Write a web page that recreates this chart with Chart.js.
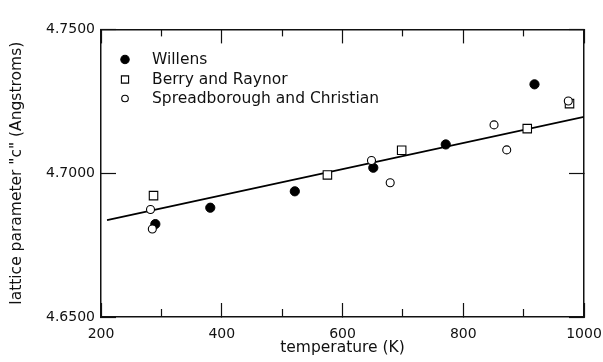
<!DOCTYPE html>
<html>
<head>
<meta charset="utf-8">
<script src="https://cdn.jsdelivr.net/npm/chart.js@4/dist/chart.umd.min.js"></script>
<style>
html,body{margin:0;padding:0;background:#fff;}
canvas{display:block;}
</style>
</head>
<body>
<canvas id="c" width="603" height="362"></canvas>
<script>
// ---- data ----
const willensT = [290, 381, 521, 651, 771, 918];
const willensC = [4.6823, 4.6880, 4.6937, 4.7019, 4.7100, 4.7309];
const berryT = [287, 575, 698, 906, 976];
const berryC = [4.6922, 4.6994, 4.7080, 4.7155, 4.7242];
const spreadT = [282, 285, 648, 679, 851, 872, 974];
const spreadC = [4.6874, 4.6806, 4.7044, 4.6967, 4.7168, 4.7081, 4.7251];
const fitT = [210, 1000];
const fitC = [4.6837, 4.7196];
const seriesNames = ["Willens", "Berry and Raynor", "Spreadborough and Christian"];
const xMajorTicks = [200, 400, 600, 800, 1000];
const xMinorTicks = [300, 500, 700, 900];
const yTicks = [4.65, 4.70, 4.75];
const xTitle = "temperature (K)";
const yTitle = 'lattice parameter "c" (Angstroms)';

const pts = (xs, ys) => xs.map((x, i) => ({x: x, y: ys[i]}));
const FONT = "'DejaVu Sans', sans-serif";
const INK = '#111';
const XMIN = 200, XMAX = 1000, YMIN = 4.65, YMAX = 4.75;

function drawMarker(ctx, style, r, fill, x, y) {
  ctx.fillStyle = fill; ctx.strokeStyle = '#000'; ctx.lineWidth = 1.1;
  ctx.beginPath();
  if (style === 'circle') ctx.arc(x, y, r, 0, Math.PI * 2);
  else ctx.rect(x - r, y - r, 2 * r, 2 * r);
  ctx.fill(); ctx.stroke();
}

const legendPlugin = {
  id: 'insideLegend',
  afterDraw(chart) {
    const ctx = chart.ctx;
    ctx.save();
    const mx = 125, tx = 152, rows = [59.5, 79.5, 98.5];
    const styles = [
      {style: 'circle', r: 4.2, fill: '#000'},
      {style: 'rect', r: 3.6, fill: '#fff'},
      {style: 'circle', r: 3.3, fill: '#fff'}
    ];
    styles.forEach((s, i) => {
      drawMarker(ctx, s.style, s.r, s.fill, mx, rows[i]);
      ctx.fillStyle = INK;
      ctx.font = "15.5px " + FONT;
      ctx.textAlign = 'left';
      ctx.textBaseline = 'middle';
      ctx.fillText(seriesNames[i], tx, rows[i]);
    });
    ctx.restore();
  }
};

// helper axes that only draw the frame side and inward tick marks (no space taken)
function tickAxis(axis, position, values, len, border, weight) {
  return {
    type: 'linear', axis: axis, position: position, weight: weight,
    min: axis === 'x' ? XMIN : YMIN, max: axis === 'x' ? XMAX : YMAX,
    afterBuildTicks(s) { s.ticks = values.map(v => ({value: v})); },
    afterFit(s) {
      if (axis === 'x') s.height = 0; else s.width = 0;
      s.paddingLeft = 0; s.paddingRight = 0; s.paddingTop = 0; s.paddingBottom = 0;
    },
    grid: {display: true, drawOnChartArea: false, drawTicks: true, tickLength: len,
           tickColor: INK, tickWidth: 1.2},
    border: {display: border, color: INK, width: 1.5},
    ticks: {display: false}
  };
}

new Chart(document.getElementById('c'), {
  type: 'scatter',
  data: {
    datasets: [
      {label: 'fit', data: pts(fitT, fitC), showLine: true, borderColor: '#000', borderWidth: 1.8,
       pointRadius: 0, fill: false, order: 10, xAxisID: 'x', yAxisID: 'y'},
      {label: seriesNames[0], data: pts(willensT, willensC), pointStyle: 'circle', pointRadius: 4.6,
       backgroundColor: '#000', borderColor: '#000', borderWidth: 1, order: 1, xAxisID: 'x', yAxisID: 'y'},
      {label: seriesNames[1], data: pts(berryT, berryC), pointStyle: 'rect', pointRadius: 6,
       backgroundColor: '#fff', borderColor: '#000', borderWidth: 1.1, order: 1, xAxisID: 'x', yAxisID: 'y'},
      {label: seriesNames[2], data: pts(spreadT, spreadC), pointStyle: 'circle', pointRadius: 4,
       backgroundColor: '#fff', borderColor: '#000', borderWidth: 1.1, order: 0, xAxisID: 'x', yAxisID: 'y'}
    ]
  },
  options: {
    responsive: false,
    animation: false,
    layout: {padding: {top: 15, right: 19, left: 0, bottom: 0}},
    plugins: {legend: {display: false}, tooltip: {enabled: false}},
    scales: {
      x: {
        type: 'linear', position: 'bottom', weight: 0, min: XMIN, max: XMAX,
        afterBuildTicks(s) { s.ticks = xMajorTicks.map(v => ({value: v})); },
        afterFit(s) { s.height = 45; s.paddingLeft = 0; s.paddingRight = 0; },
        grid: {display: true, drawOnChartArea: false, drawTicks: true, tickLength: -14,
               tickColor: INK, tickWidth: 1.2},
        border: {display: true, color: INK, width: 1.5},
        ticks: {color: INK, font: {family: FONT, size: 14}, padding: 23, maxRotation: 0,
                callback: v => String(v)},
        title: {display: true, text: xTitle, color: INK, font: {family: FONT, size: 15.5},
                padding: {top: 0, bottom: 5}}
      },
      xMinorBottom: tickAxis('x', 'bottom', xMinorTicks, -8, false, -1),
      xTop: tickAxis('x', 'top', xMajorTicks, -14, true, 0),
      xMinorTop: tickAxis('x', 'top', xMinorTicks, -7, false, -1),
      y: {
        type: 'linear', position: 'left', weight: 0, min: YMIN, max: YMAX,
        afterBuildTicks(s) { s.ticks = yTicks.map(v => ({value: v})); },
        afterFit(s) { s.width = 101; },
        grid: {display: true, drawOnChartArea: false, drawTicks: true, tickLength: -15,
               tickColor: INK, tickWidth: 1.2},
        border: {display: true, color: INK, width: 1.5},
        ticks: {color: INK, font: {family: FONT, size: 14}, padding: 21,
                callback: v => Number(v).toFixed(4)},
        title: {display: true, text: yTitle, color: INK, font: {family: FONT, size: 15.5},
                padding: {top: 8, bottom: 0}}
      },
      yRight: tickAxis('y', 'right', yTicks, -15, true, 0)
    }
  },
  plugins: [legendPlugin]
});
</script>
</body>
</html>
